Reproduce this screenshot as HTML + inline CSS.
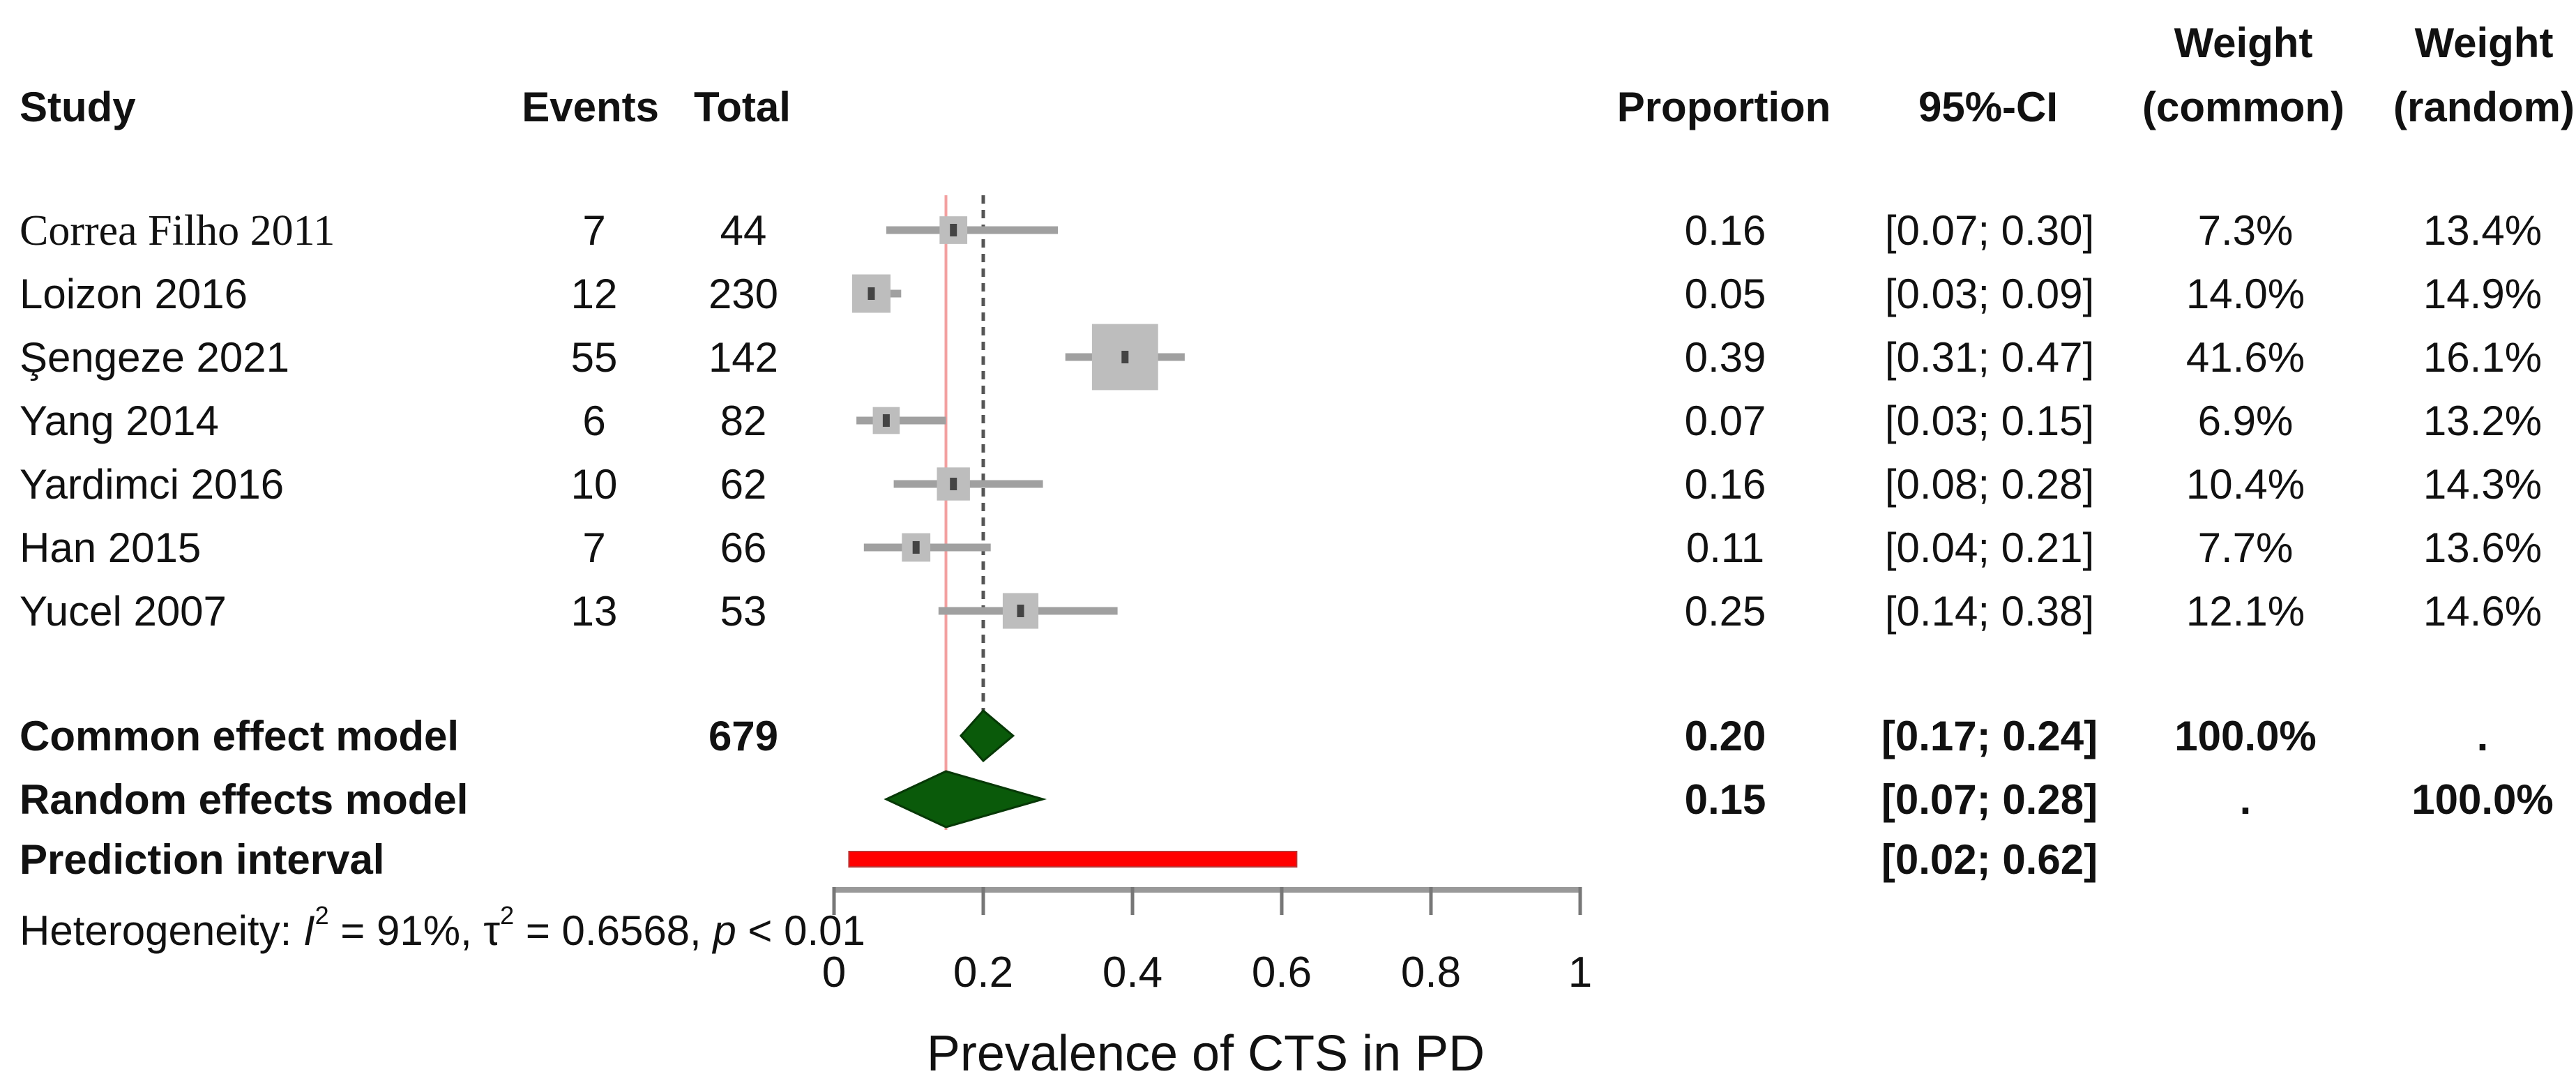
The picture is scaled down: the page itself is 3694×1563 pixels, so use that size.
<!DOCTYPE html>
<html><head><meta charset="utf-8"><style>
html,body{margin:0;padding:0;background:#fff;}
svg{display:block;}
text{font-family:"Liberation Sans",Arial,sans-serif;font-size:60px;fill:#111;}
.b{font-weight:bold;}
.serif{font-family:"Liberation Serif",serif;font-size:62px;}
</style></head><body>
<svg id="plot" width="3694" height="1563" viewBox="0 0 3694 1563">
<g id="hdr">
<text x="28" y="174" class="b">Study</text>
<text x="945" y="174" class="b" text-anchor="end">Events</text>
<text x="995" y="174" class="b">Total</text>
<text x="2472" y="174" class="b" text-anchor="middle">Proportion</text>
<text x="2851" y="174" class="b" text-anchor="middle">95%-CI</text>
<text x="3217" y="82" class="b" text-anchor="middle">Weight</text>
<text x="3217" y="174" class="b" text-anchor="middle">(common)</text>
<text x="3562" y="82" class="b" text-anchor="middle">Weight</text>
<text x="3562" y="174" class="b" text-anchor="middle">(random)</text>
</g>
<g id="marks"></g>
<g id="rows"></g>
<text x="28" y="1355">Heterogeneity: <tspan font-style="italic">I</tspan><tspan dy="-30" font-size="36">2</tspan><tspan dy="30"> = 91%, τ</tspan><tspan dy="-30" font-size="36">2</tspan><tspan dy="30"> = 0.6568, </tspan><tspan font-style="italic">p</tspan> &lt; 0.01</text>
<text x="1729" y="1535" text-anchor="middle" style="font-size:72px">Prevalence of CTS in PD</text>
</svg>
<script>
const studies = ["Correa Filho 2011","Loizon 2016","Şengeze 2021","Yang 2014","Yardimci 2016","Han 2015","Yucel 2007"];
const events = [7,12,55,6,10,7,13];
const totals = [44,230,142,82,62,66,53];
const props = [0.16,0.05,0.39,0.07,0.16,0.11,0.25];
const lowers = [0.07,0.03,0.31,0.03,0.08,0.04,0.14];
const uppers = [0.30,0.09,0.47,0.15,0.28,0.21,0.38];
const wCommon = [7.3,14.0,41.6,6.9,10.4,7.7,12.1];
const wRandom = [13.4,14.9,16.1,13.2,14.3,13.6,14.6];
const commonEst = [0.20,0.17,0.24];
const randomEst = [0.15,0.07,0.28];
const predInt = [0.02,0.62];
const xTicks = [0,0.2,0.4,0.6,0.8,1];
const xTickLabels = ["0","0.2","0.4","0.6","0.8","1"];
const totalN = 679;

const NS="http://www.w3.org/2000/svg";
const X0=1196, X1=2266;
const xs = v => X0 + (X1-X0)*v;
const rowY = i => 330 + i*91;
const fmt2 = v => v.toFixed(2);
const fmtCI = (l,u) => "["+fmt2(l)+"; "+fmt2(u)+"]";
const marks=document.getElementById('marks'), rows=document.getElementById('rows');
function mk(tag, attrs, parent){const e=document.createElementNS(NS,tag);for(const k in attrs)e.setAttribute(k,attrs[k]);parent.appendChild(e);return e;}
function txt(x,y,s,anchor,cls,parent){const e=mk('text',{x:x,y:y,'text-anchor':anchor||'start'},parent);if(cls)e.setAttribute('class',cls);e.textContent=s;return e;}

const rl=mk('line',{x1:xs(randomEst[0]),x2:xs(randomEst[0]),y1:280,y2:1190,stroke:'#f2a0a0','stroke-width':4},marks);


const cl=mk('line',{x1:xs(commonEst[0]),x2:xs(commonEst[0]),y1:280,y2:1025,stroke:'#555','stroke-width':5,'stroke-dasharray':'12 9'},marks);



for(let i=0;i<studies.length;i++){
  const y=rowY(i);
  const ci=mk('line',{x1:xs(lowers[i]),x2:xs(uppers[i]),y1:y,y2:y,stroke:'#a0a0a0','stroke-width':11},marks);
  
  
  const s=14.7*Math.sqrt(wCommon[i]);
  const sq=mk('rect',{x:xs(props[i])-s/2,y:y-s/2,width:s,height:s,fill:'#bdbdbd'},marks);
  
  
  const pt=mk('rect',{x:xs(props[i])-5,y:y-9,width:10,height:18,fill:'#444'},marks);
  
  
  const ty=y+21;
  const t1=txt(28,ty,studies[i],'start',i===0?'serif':null,rows);
  
  
  const t2=txt(852,ty,String(events[i]),'middle',null,rows);
  
  
  const t3=txt(1066,ty,String(totals[i]),'middle',null,rows);
  
  
  const t4=txt(2474,ty,fmt2(props[i]),'middle',null,rows);
  
  
  const t5=txt(2853,ty,fmtCI(lowers[i],uppers[i]),'middle',null,rows);
  
  
  const t6=txt(3220,ty,wCommon[i].toFixed(1)+"%",'middle',null,rows);
  
  
  const t7=txt(3560,ty,wRandom[i].toFixed(1)+"%",'middle',null,rows);
  
  
}

function diamond(est,y,h,name){
  const p=mk('polygon',{points:[xs(est[1])+','+y, xs(est[0])+','+(y-h/2), xs(est[2])+','+y, xs(est[0])+','+(y+h/2)].join(' '),fill:'#0a5a0a',stroke:'#063806','stroke-width':3},marks);
  
  
}
const yC=1055, yR=1146, yP=1232;
diamond(commonEst,yC,72,'common-effect-diamond');
diamond(randomEst,yR,80,'random-effects-diamond');
const pb=mk('rect',{x:xs(predInt[0]),y:yP-11,width:xs(predInt[1])-xs(predInt[0]),height:22,fill:'#f00',stroke:'#b33','stroke-width':2},marks);



const sumRows=[
 [yC,"Common effect model",String(totalN),fmt2(commonEst[0]),fmtCI(commonEst[1],commonEst[2]),"100.0%","."],
 [yR,"Random effects model","",fmt2(randomEst[0]),fmtCI(randomEst[1],randomEst[2]),".","100.0%"],
 [yP,"Prediction interval","","",fmtCI(predInt[0],predInt[1]),"",""]];
sumRows.forEach(r=>{
  const ty=r[0]+21;
  const a=txt(28,ty,r[1],'start','b',rows);
  
  
  if(r[2]){const b=txt(1066,ty,r[2],'middle','b',rows);
  
  }
  if(r[3]){const c=txt(2474,ty,r[3],'middle','b',rows);
  
  }
  const d=txt(2853,ty,r[4],'middle','b',rows);
  
  
  if(r[5]){const e=txt(3220,ty,r[5],'middle','b',rows);
  
  }
  if(r[6]){const f=txt(3560,ty,r[6],'middle','b',rows);
  
  }
});

const ax=mk('line',{x1:xs(0),x2:xs(1),y1:1276,y2:1276,stroke:'#999','stroke-width':8},marks);


xTicks.forEach((t,i)=>{
  const tk=mk('line',{x1:xs(t),x2:xs(t),y1:1272,y2:1312,stroke:'#777','stroke-width':5},marks);
  
  
  const tl=txt(xs(t),1415,xTickLabels[i],'middle',null,marks);
  tl.setAttribute('style','font-size:62px');
  
  
});
</script>
</body></html>
